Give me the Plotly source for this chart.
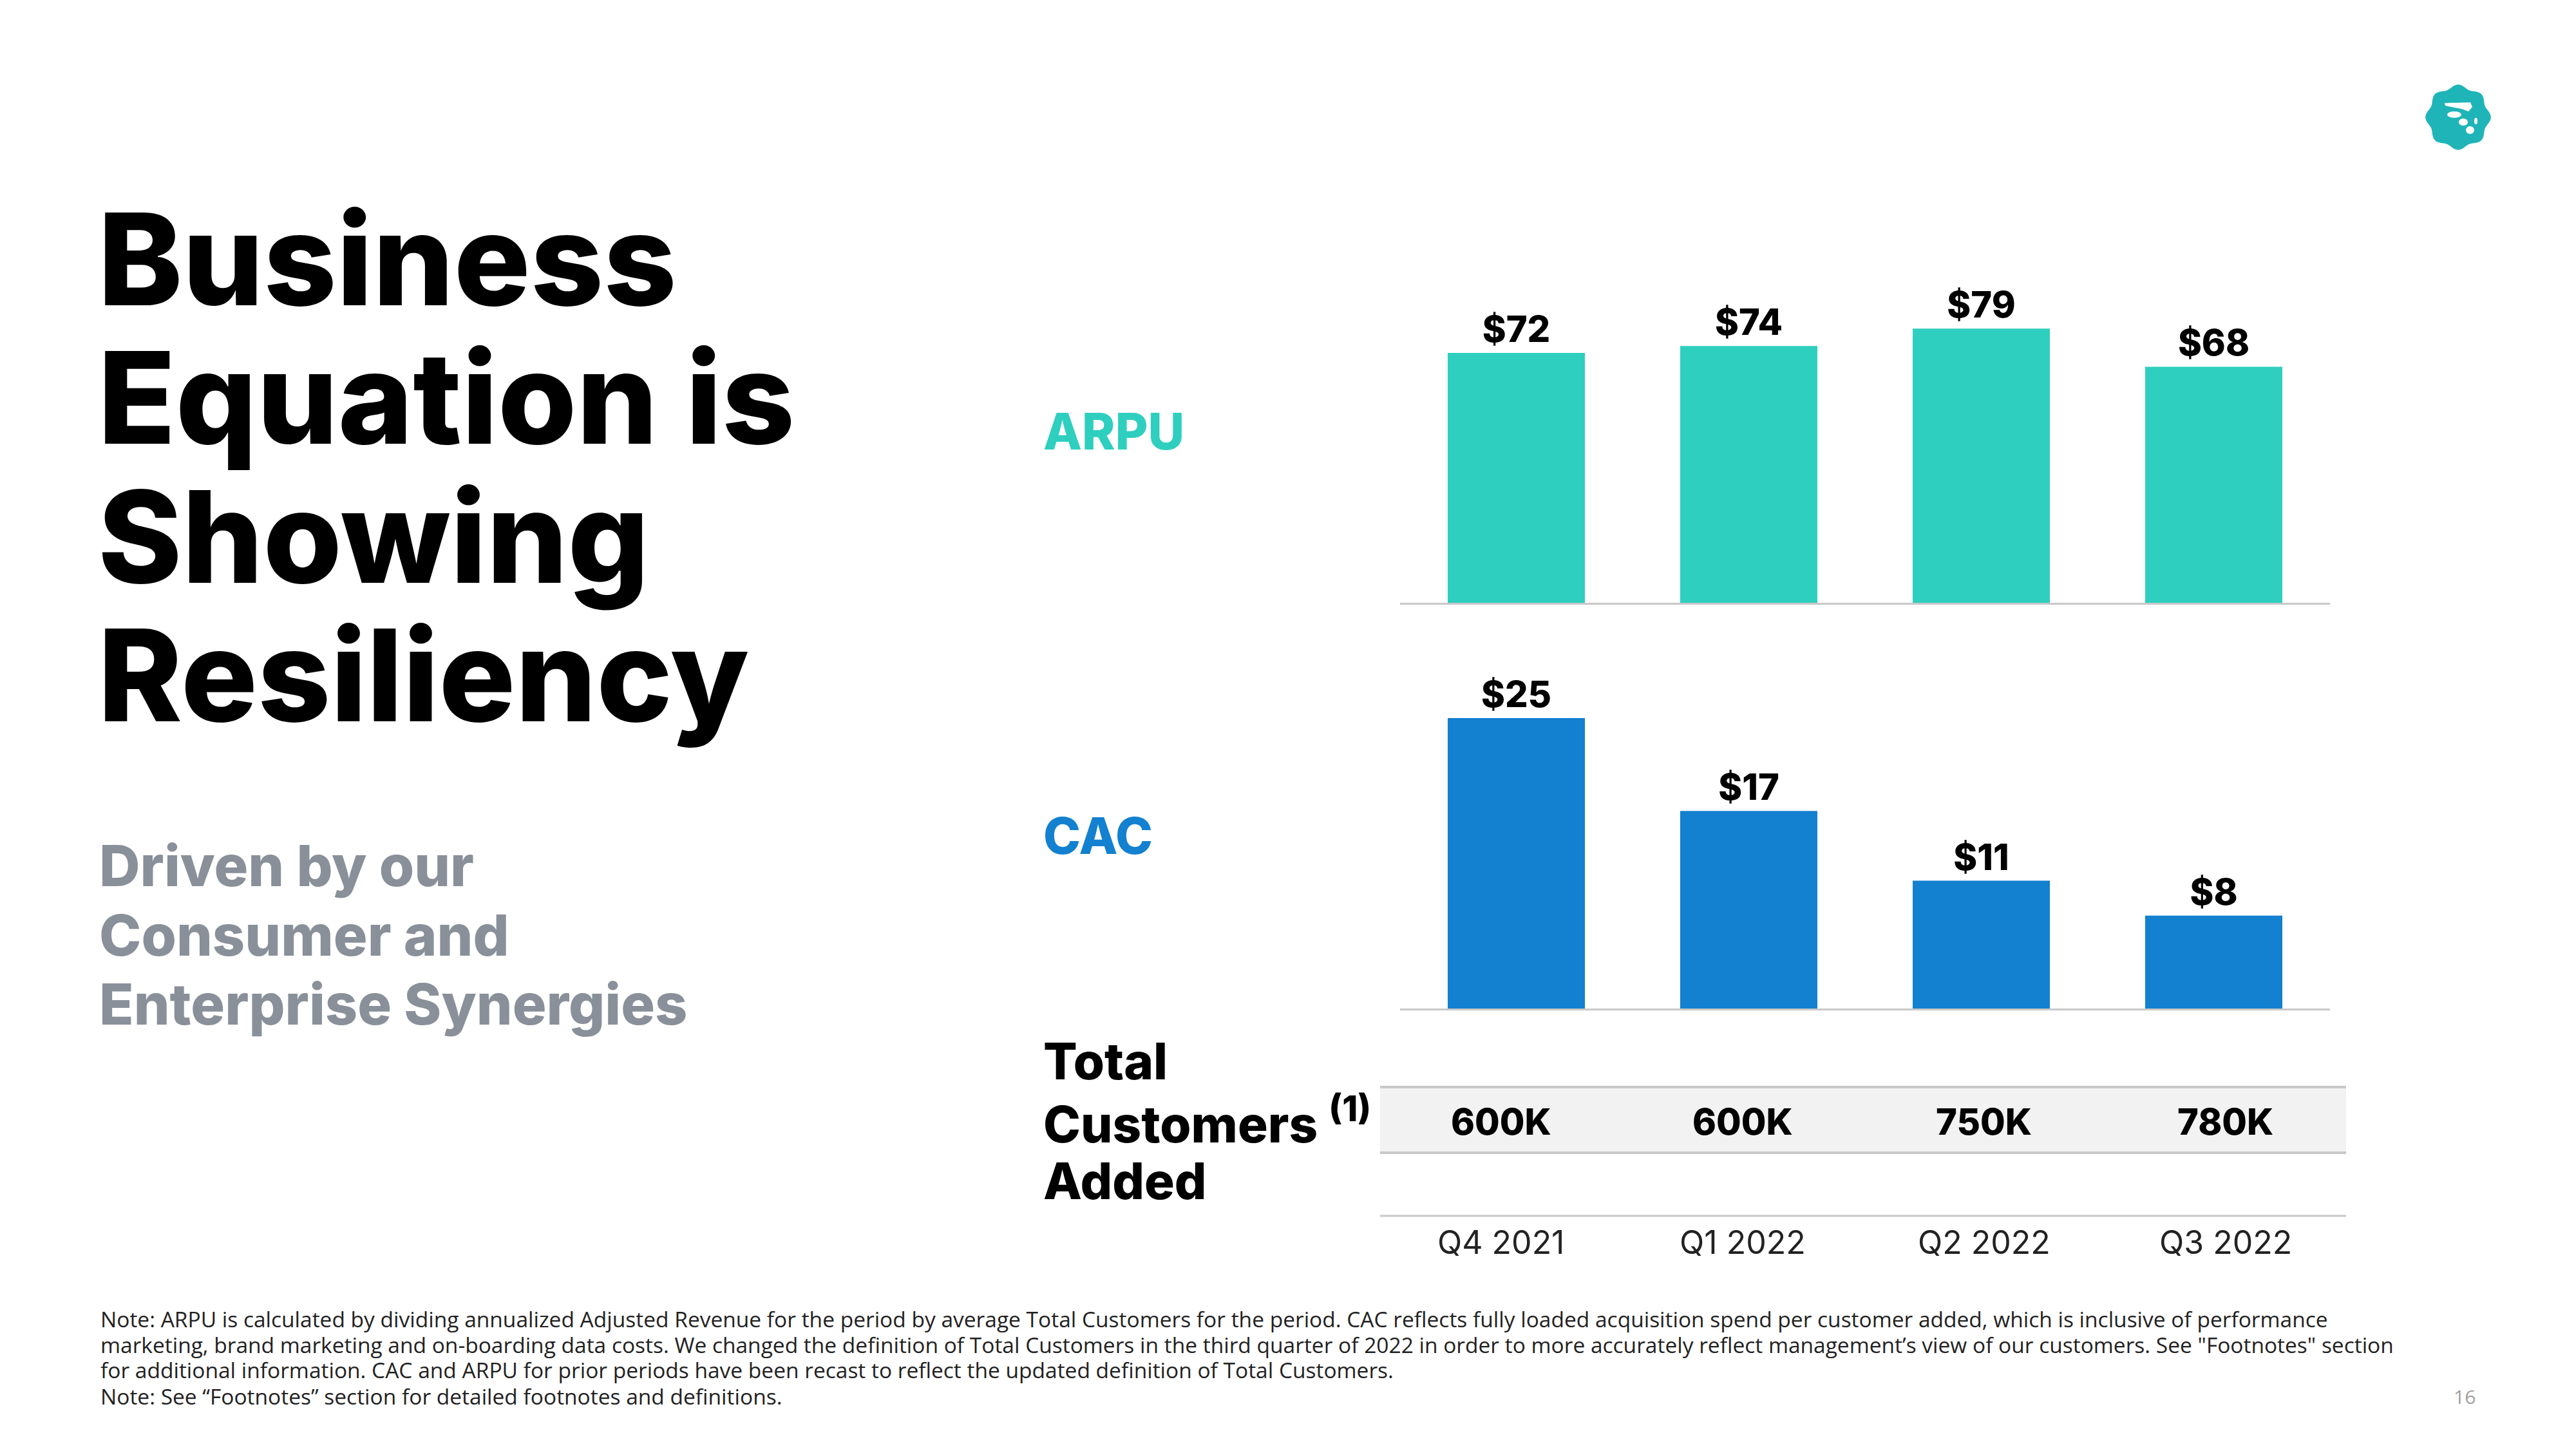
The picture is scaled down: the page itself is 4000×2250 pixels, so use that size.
import math
import plotly.graph_objects as go

# ---------------- data ----------------
quarters = ["Q4 2021", "Q1 2022", "Q2 2022", "Q3 2022"]
arpu = [72, 74, 79, 68]
cac = [25, 17, 11, 8]
customers_added = ["600K", "600K", "750K", "780K"]
arpu_labels = [f"${v}" for v in arpu]
cac_labels = [f"${v}" for v in cac]

title_lines = ["Business", "Equation is", "Showing", "Resiliency"]
subtitle_lines = ["Driven by our", "Consumer and", "Enterprise Synergies"]
footnote_lines = [
    "Note: ARPU is calculated by dividing annualized Adjusted Revenue for the period by average Total Customers for the period. CAC reflects fully loaded acquisition spend per customer added, which is inclusive of performance",
    "marketing, brand marketing and on-boarding data costs. We changed the definition of Total Customers in the third quarter of 2022 in order to more accurately reflect management\u2019s view of our customers. See \"Footnotes\" section",
    "for additional information. CAC and ARPU for prior periods have been recast to reflect the updated definition of Total Customers.",
    "Note: See \u201cFootnotes\u201d section for detailed footnotes and definitions.",
]

# ---------------- layout helpers ----------------
W, H = 4000, 2250
def fx(p):
    return p / W
def fy(p):
    return 1 - p / H

TEAL = "#2ecfbf"
BLUE = "#1380d0"
LOGO = "#1fb5b8"
GRAY_TXT = "#8a909a"
LINE = "#c8c8c8"
HEAVY = "Inter"

fig = go.Figure()

bar_font = dict(family=HEAVY, size=56, color="#000000", weight=800)
fig.add_trace(go.Bar(
    x=quarters, y=arpu, text=arpu_labels, textposition="outside",
    marker=dict(color=TEAL, line=dict(width=0)), width=0.59,
    textfont=bar_font, cliponaxis=False, constraintext="none",
    xaxis="x", yaxis="y", hoverinfo="skip", showlegend=False,
))
fig.add_trace(go.Bar(
    x=quarters, y=cac, text=cac_labels, textposition="outside",
    marker=dict(color=BLUE, line=dict(width=0)), width=0.59,
    textfont=bar_font, cliponaxis=False, constraintext="none",
    xaxis="x2", yaxis="y2", hoverinfo="skip", showlegend=False,
))

ARPU_BASE, ARPU_PX = 936, 5.39
CAC_BASE, CAC_PX = 1566, 18.04
arpu_max, cac_max = 90, 28

xcommon = dict(range=[-0.5, 3.5], showgrid=False, zeroline=False, showticklabels=False,
               ticks="", showline=True, linecolor=LINE, linewidth=3, fixedrange=True)
ycommon = dict(showgrid=False, zeroline=False, showticklabels=False, ticks="",
               showline=False, fixedrange=True)

annotations = []
shapes = []

TBL_L, TBL_R = 2143, 3643

# left text
for line, cy in zip(title_lines, [402, 617, 833, 1048]):
    annotations.append(dict(x=fx(150), y=fy(cy), xref="paper", yref="paper", text=line,
                            showarrow=False, xanchor="left", yanchor="middle",
                            font=dict(family=HEAVY, size=198, color="#000000", weight=800)))
for line, cy in zip(subtitle_lines, [1344, 1452, 1559]):
    annotations.append(dict(x=fx(152), y=fy(cy), xref="paper", yref="paper", text=line,
                            showarrow=False, xanchor="left", yanchor="middle",
                            font=dict(family=HEAVY, size=88, color=GRAY_TXT, weight=800)))

# row labels
label_font = dict(family=HEAVY, size=78, weight=800)
annotations.append(dict(x=fx(1618), y=fy(670), xref="paper", yref="paper", text="ARPU",
                        showarrow=False, xanchor="left", yanchor="middle",
                        font=dict(label_font, color=TEAL)))
annotations.append(dict(x=fx(1618), y=fy(1297), xref="paper", yref="paper", text="CAC",
                        showarrow=False, xanchor="left", yanchor="middle",
                        font=dict(label_font, color=BLUE)))
for line, cy in zip(["Total", "Customers <sup>(1)</sup>", "Added"], [1647, 1740, 1833]):
    annotations.append(dict(x=fx(1618), y=fy(cy), xref="paper", yref="paper", text=line,
                            showarrow=False, xanchor="left", yanchor="middle",
                            font=dict(label_font, color="#000000")))

# table band
shapes.append(dict(type="rect", xref="paper", yref="paper", x0=fx(TBL_L), x1=fx(TBL_R),
                   y0=fy(1790), y1=fy(1688), fillcolor="#f2f2f2", line=dict(width=0), layer="below"))
for yy, w in [(1688, 4), (1790, 4), (1888, 3)]:
    shapes.append(dict(type="line", xref="paper", yref="paper", x0=fx(TBL_L), x1=fx(TBL_R),
                       y0=fy(yy), y1=fy(yy), line=dict(color=LINE, width=w)))

for i, (q, v) in enumerate(zip(quarters, customers_added)):
    annotations.append(dict(x=i, y=fy(1742), xref="x3", yref="paper", text=v, showarrow=False,
                            xanchor="center", yanchor="middle",
                            font=dict(family=HEAVY, size=56, color="#000000", weight=800)))
    annotations.append(dict(x=i, y=fy(1929), xref="x3", yref="paper", text=q, showarrow=False,
                            xanchor="center", yanchor="middle",
                            font=dict(family=HEAVY, size=50, color="#222222", weight=400)))

# footnotes
for line, cy in zip(footnote_lines, [2048, 2088, 2127, 2168]):
    annotations.append(dict(x=fx(154), y=fy(cy), xref="paper", yref="paper", text=line,
                            showarrow=False, xanchor="left", yanchor="middle",
                            font=dict(family="Open Sans", size=33.5, color="#222222")))
annotations.append(dict(x=fx(3827), y=fy(2168), xref="paper", yref="paper", text="16",
                        showarrow=False, xanchor="center", yanchor="middle",
                        font=dict(family="Open Sans", size=30, color="#a0a0a0")))

# logo badge (decoration)
cx, cy0, R = 3817, 182, 48
pts = []
for i in range(161):
    t = 2 * math.pi * i / 160
    r = R + 2.8 * math.cos(8 * t)
    pts.append((fx(cx + r * math.cos(t)), fy(cy0 + r * math.sin(t))))
path = "M " + " L ".join(f"{a:.6f},{b:.6f}" for a, b in pts) + " Z"
shapes.append(dict(type="path", xref="paper", yref="paper", path=path,
                   fillcolor=LOGO, line=dict(width=0)))
wing = [(3796, 160), (3836, 159), (3839, 166), (3833, 173), (3822, 169), (3806, 166), (3797, 164)]
shapes.append(dict(type="path", xref="paper", yref="paper",
                   path="M " + " L ".join(f"{fx(a):.6f},{fy(b):.6f}" for a, b in wing) + " Z",
                   fillcolor="white", line=dict(width=0)))
for (x0, y0, x1, y1) in [(3800, 173, 3822, 183), (3818, 184, 3832, 195),
                         (3842, 183, 3847, 193), (3829, 196, 3842, 208)]:
    shapes.append(dict(type="circle", xref="paper", yref="paper", x0=fx(x0), x1=fx(x1),
                       y0=fy(y1), y1=fy(y0), fillcolor="white", line=dict(width=0)))

fig.update_layout(
    width=W, height=H, margin=dict(l=0, r=0, t=0, b=0),
    paper_bgcolor="white", plot_bgcolor="white",
    showlegend=False,
    xaxis=dict(xcommon, domain=[fx(2174), fx(3618)], anchor="y",
               type="category", categoryorder="array", categoryarray=quarters),
    yaxis=dict(ycommon, domain=[fy(ARPU_BASE), fy(ARPU_BASE - arpu_max * ARPU_PX)],
               range=[0, arpu_max], anchor="x"),
    xaxis2=dict(xcommon, domain=[fx(2174), fx(3618)], anchor="y2",
                type="category", categoryorder="array", categoryarray=quarters),
    yaxis2=dict(ycommon, domain=[fy(CAC_BASE), fy(CAC_BASE - cac_max * CAC_PX)],
                range=[0, cac_max], anchor="x2"),
    xaxis3=dict(xcommon, showline=False, type="linear",
                domain=[fx(TBL_L), fx(TBL_R)], anchor="y3"),
    yaxis3=dict(ycommon, domain=[fy(1888), fy(1688)], range=[0, 1], anchor="x3"),
    annotations=annotations, shapes=shapes,
    font=dict(family=HEAVY),
)

fig.write_html("out.html", config={"displayModeBar": False},
               post_script="document.body.style.margin='0';")
